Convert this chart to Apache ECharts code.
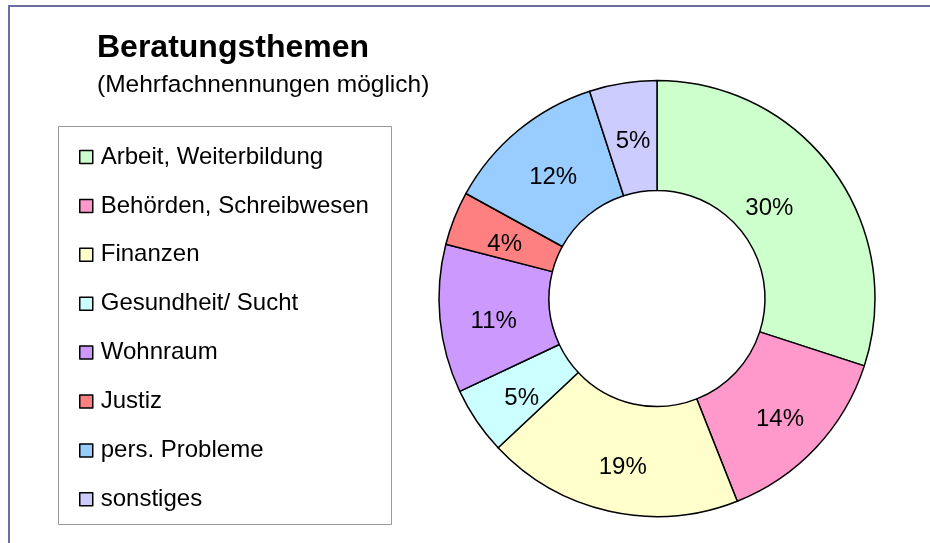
<!DOCTYPE html>
<html>
<head>
<meta charset="utf-8">
<script src="https://cdn.jsdelivr.net/npm/echarts@6/dist/echarts.min.js"></script>
<style>
  html, body { margin: 0; padding: 0; background: #fff; }
  #chart { width: 930px; height: 543px; }
</style>
</head>
<body>
<div id="chart"></div>
<script>
// Beratungsthemen, Anteile in Prozent
var themen = ['Arbeit, Weiterbildung', 'Behörden, Schreibwesen', 'Finanzen', 'Gesundheit/ Sucht',
  'Wohnraum', 'Justiz', 'pers. Probleme', 'sonstiges'];
var anteile = [30, 14, 19, 5, 11, 4, 12, 5];
var farben = ['#ccffcc', '#ff99cc', '#ffffcc', '#ccffff', '#cc99ff', '#ff8080', '#99ccff', '#ccccff'];

var font = 'Liberation Sans, Arial, sans-serif';

// Excel setzt die Beschriftungen etwas tiefer, die grosse Scheibe weiter innen
function labelVersatz(i) {
  return i === 0 ? [-22, 7] : [2, 7];
}

var chart = echarts.init(document.getElementById('chart'));

chart.setOption({
  animation: false,
  backgroundColor: '#fff',
  color: farben,
  title: {
    text: 'Beratungsthemen',
    subtext: '(Mehrfachnennungen möglich)',
    left: 97,
    top: 32,
    padding: 0,
    itemGap: 9,
    textStyle: { fontFamily: font, fontSize: 32, fontWeight: 'bold', color: '#000' },
    subtextStyle: { fontFamily: font, fontSize: 24.5, color: '#000' }
  },
  legend: {
    orient: 'vertical',
    left: 79,
    top: 145,
    padding: 0,
    itemGap: 24.9,
    itemWidth: 13,
    itemHeight: 13,
    icon: 'rect',
    selectedMode: false,
    itemStyle: { borderColor: '#000', borderWidth: 1.5 },
    textStyle: { fontFamily: font, fontSize: 24, lineHeight: 24, color: '#000', padding: [0, 0, 0, 3] },
    data: themen
  },
  graphic: [
    // Rahmen um das ganze Diagramm
    {
      type: 'rect', z: 0,
      shape: { x: 9, y: 6, width: 940, height: 560 },
      style: { fill: 'none', stroke: '#6e6ea2', lineWidth: 2 }
    },
    // Rahmen der Legende
    {
      type: 'rect', z: 0,
      shape: { x: 58.5, y: 126.5, width: 333, height: 398 },
      style: { fill: 'none', stroke: '#999', lineWidth: 1 }
    }
  ],
  series: [{
    type: 'pie',
    center: [657, 298.5],
    radius: [108, 218],
    startAngle: 90,
    clockwise: true,
    avoidLabelOverlap: false,
    emphasis: { disabled: true },
    itemStyle: { borderColor: '#000', borderWidth: 1.5 },
    label: {
      show: true,
      position: 'inside',
      formatter: '{c}%',
      fontFamily: font,
      fontSize: 24,
      color: '#000'
    },
    labelLine: { show: false },
    data: themen.map(function (name, i) {
      return { name: name, value: anteile[i], label: { offset: labelVersatz(i) } };
    })
  }]
});
</script>
</body>
</html>
